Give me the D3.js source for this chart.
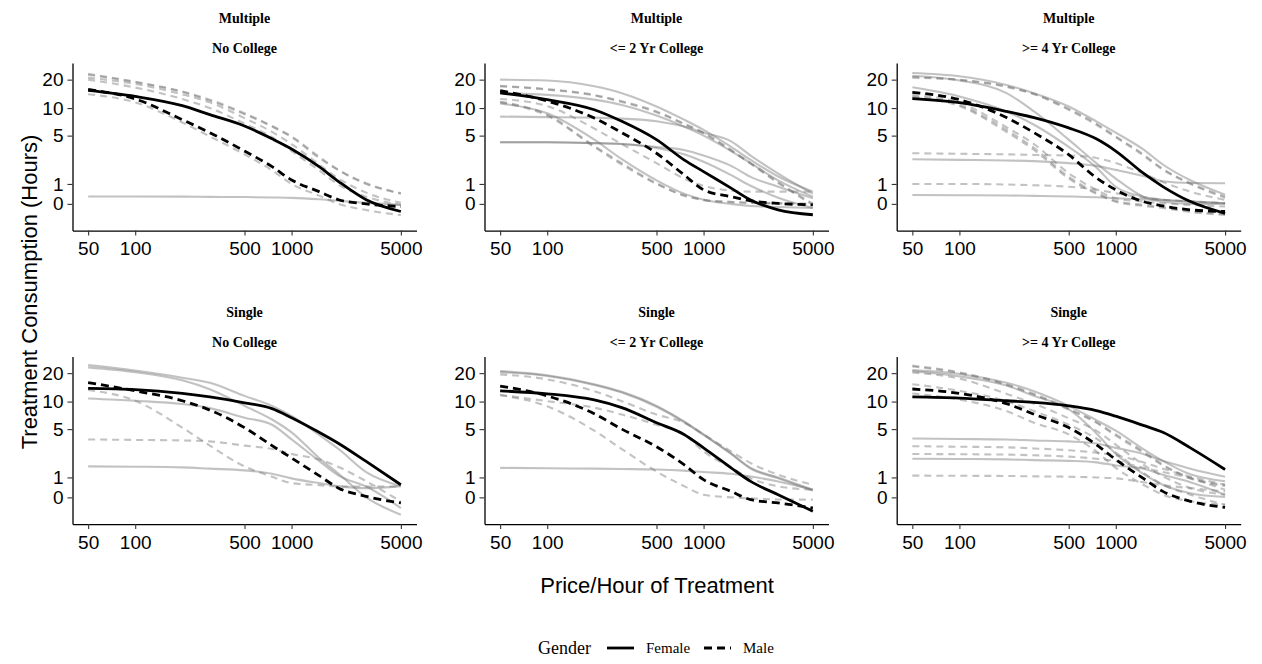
<!DOCTYPE html>
<html>
<head>
<meta charset="utf-8">
<script src="https://cdn.jsdelivr.net/npm/d3@7/dist/d3.min.js"></script>
<style>
  body { margin: 0; background: #fff; }
  text { fill: #000; }
</style>
</head>
<body>
<svg id="chart" width="1262" height="664"></svg>
<script>
// ---- data ----
const prices = [50, 100, 200, 300, 500, 750, 1000, 1500, 2000, 3000, 5000];
const xTicks = [50, 100, 500, 1000, 5000];
const yTicks = [0, 1, 5, 10, 20];
const households = ['Multiple', 'Single'];
const educations = ['No College', '<= 2 Yr College', '>= 4 Yr College'];
const genders = ['Female', 'Male'];

// each row: [gender, 'mean' | 'subject', consumption at each price]
const multipleNoCollege = [
  ['Male',   'subject', [23, 19, 15, 12.3, 8.8, 6.4, 4.9, 2.8, 1.83, 1.04, 0.52]],
  ['Male',   'subject', [22.5, 18.8, 14.8, 12, 8.6, 6.3, 4.8, 2.7, 1.8, 1.0, 0.5]],
  ['Male',   'subject', [21, 18, 14, 11.5, 7.8, 5.5, 4.0, 2.2, 1.3, 0.55, 0.05]],
  ['Male',   'subject', [20, 16.5, 12.5, 10, 6.8, 4.8, 3.3, 1.8, 0.95, 0.35, -0.05]],
  ['Male',   'subject', [14, 11.5, 7.0, 4.9, 3.0, 1.8, 1.0, 0.4, 0.0, -0.3, -0.55]],
  ['Female', 'subject', [0.36, 0.36, 0.35, 0.34, 0.33, 0.31, 0.29, 0.22, 0.15, 0.05, -0.05]],
  ['Female', 'mean',    [15.4, 13.3, 10.6, 8.5, 6.4, 4.6, 3.5, 2.05, 1.13, 0.2, -0.37]],
  ['Male',   'mean',    [15.8, 12.5, 7.5, 5.4, 3.3, 2.05, 1.22, 0.6, 0.2, 0, -0.13]]
];
const multipleTwoYr = [
  ['Female', 'subject', [20, 19.6, 17, 14.4, 10.4, 7.5, 5.8, 3.7, 2.55, 1.42, 0.6]],
  ['Female', 'subject', [14.4, 13.8, 12.3, 10.8, 8.3, 6.3, 5.0, 3.3, 2.3, 1.2, 0.35]],
  ['Male',   'subject', [17.2, 15.9, 13.8, 11.8, 9.2, 6.8, 5.4, 3.4, 2.3, 1.1, 0.0]],
  ['Male',   'subject', [17, 15.7, 13.6, 11.6, 9.0, 6.7, 5.3, 3.35, 2.25, 1.05, -0.05]],
  ['Female', 'subject', [8.1, 8.0, 7.9, 7.7, 7.2, 6.3, 5.4, 4.3, 2.9, 1.6, 0.5]],
  ['Female', 'subject', [4.2, 4.2, 4.1, 4.0, 3.7, 3.4, 2.9, 2.1, 1.4, 0.85, 0.27]],
  ['Female', 'subject', [4.2, 4.2, 4.1, 4.0, 3.6, 3.0, 2.4, 1.5, 0.9, 0.3, -0.2]],
  ['Male',   'subject', [11.7, 8.5, 3.8, 2.3, 1.04, 0.43, 0.2, 0.1, 0.05, 0.03, 0]],
  ['Male',   'subject', [11.5, 8.3, 3.7, 2.2, 1.0, 0.4, 0.18, 0.08, 0.05, 0.02, 0]],
  ['Female', 'subject', [11.2, 8.8, 4.5, 2.6, 1.2, 0.5, 0.2, 0.0, -0.1, -0.15, -0.2]],
  ['Male',   'subject', [12.5, 10.5, 6.0, 4.0, 2.3, 1.3, 0.9, 0.65, 0.6, 0.6, 0.6]],
  ['Female', 'mean',    [14.5, 12.3, 9.6, 7.2, 4.5, 2.55, 1.72, 0.78, 0.19, -0.29, -0.53]],
  ['Male',   'mean',    [15.3, 11.9, 7.8, 5.4, 3.1, 1.52, 0.69, 0.35, 0.15, 0.02, -0.05]]
];
const multipleFourYr = [
  ['Female', 'subject', [23.5, 21.7, 17.6, 14.4, 10.4, 7.2, 5.4, 3.45, 2.2, 1.2, 0.45]],
  ['Male',   'subject', [21.3, 20, 17, 14.2, 9.8, 6.8, 4.9, 3.0, 1.9, 1.04, 0.36]],
  ['Male',   'subject', [21, 19.8, 16.8, 14, 9.6, 6.6, 4.8, 2.9, 1.85, 1.0, 0.3]],
  ['Female', 'subject', [22, 19.6, 14.4, 9.2, 4.5, 2.3, 1.3, 0.35, 0.1, 0.0, 0.0]],
  ['Female', 'subject', [16.6, 13.3, 9.2, 6.6, 3.7, 2.0, 0.85, 0.35, 0.2, 0.1, 0.03]],
  ['Male',   'subject', [13.8, 11.4, 6.2, 4.0, 1.62, 0.69, 0.27, 0.11, 0.03, -0.05, -0.13]],
  ['Male',   'subject', [13.0, 10.5, 5.5, 3.4, 1.3, 0.5, 0.1, -0.1, -0.2, -0.4, -0.54]],
  ['Male',   'subject', [13.3, 10.8, 5.8, 3.6, 1.4, 0.55, 0.15, -0.05, -0.15, -0.35, -0.5]],
  ['Male',   'subject', [3.1, 3.05, 3.0, 2.95, 2.9, 2.7, 2.3, 1.6, 1.1, 0.6, 0.19]],
  ['Female', 'subject', [2.6, 2.55, 2.5, 2.45, 2.3, 2.1, 1.83, 1.45, 1.15, 1.05, 1.04]],
  ['Male',   'subject', [1.0, 1.0, 0.97, 0.93, 0.85, 0.7, 0.52, 0.3, 0.2, 0.12, 0.03]],
  ['Female', 'subject', [0.43, 0.42, 0.41, 0.39, 0.36, 0.32, 0.27, 0.22, 0.19, 0.13, 0.03]],
  ['Female', 'mean',    [12.6, 11.4, 9.2, 7.9, 6.1, 4.6, 3.3, 1.62, 0.86, 0.11, -0.46]],
  ['Male',   'mean',    [14.7, 12.3, 7.9, 5.4, 2.97, 1.35, 0.69, 0.11, -0.1, -0.29, -0.37]]
];
const singleNoCollege = [
  ['Female', 'subject', [24.3, 21.3, 17.9, 15.8, 11.5, 9.0, 7.0, 4.3, 2.9, 1.3, 0.55]],
  ['Female', 'subject', [23, 20.5, 16.8, 13.5, 9.0, 6.4, 4.6, 2.2, 1.2, 0.0, -0.86]],
  ['Female', 'subject', [10.8, 10.2, 9.4, 8.5, 6.7, 5.6, 3.8, 2.0, 1.1, 0.53, -0.52]],
  ['Male',   'subject', [13.3, 10.2, 5.2, 3.2, 1.64, 1.04, 0.7, 0.6, 0.53, 0.53, 0.53]],
  ['Male',   'subject', [3.8, 3.75, 3.7, 3.6, 3.2, 2.9, 2.5, 2.1, 1.6, 0.8, -0.2]],
  ['Female', 'subject', [1.64, 1.62, 1.58, 1.5, 1.4, 1.2, 0.95, 0.7, 0.55, 0.45, 0.55]],
  ['Female', 'mean',    [13.8, 13.4, 12.2, 11.2, 9.7, 8.4, 6.7, 4.6, 3.4, 1.96, 0.62]],
  ['Male',   'mean',    [15.9, 13.0, 10.2, 8.1, 5.2, 3.2, 2.2, 1.1, 0.45, 0.05, -0.27]]
];
const singleTwoYr = [
  ['Female', 'subject', [21, 19, 15.3, 12.7, 9.0, 6.1, 4.35, 2.55, 1.55, 1.0, 0.37]],
  ['Female', 'subject', [20.5, 18.7, 15, 12.5, 8.8, 6.0, 4.3, 2.5, 1.5, 0.95, 0.33]],
  ['Male',   'subject', [19.4, 17.2, 12.9, 10.1, 7.25, 5.9, 4.35, 2.7, 1.85, 1.15, 0.62]],
  ['Male',   'subject', [11.8, 10.1, 8.6, 7.25, 5.6, 4.35, 2.7, 1.55, 0.95, 0.54, 0.37]],
  ['Male',   'subject', [11.7, 8.9, 4.8, 2.9, 1.33, 0.55, 0.13, 0.0, -0.05, -0.1, -0.11]],
  ['Female', 'subject', [1.55, 1.52, 1.5, 1.48, 1.45, 1.38, 1.3, 1.2, 1.05, 0.79, 0.37]],
  ['Female', 'mean',    [13.0, 12.1, 10.4, 8.6, 5.9, 4.35, 3.0, 1.55, 0.79, 0.13, -0.68]],
  ['Male',   'mean',    [14.6, 11.5, 7.4, 5.0, 3.1, 1.75, 0.88, 0.29, -0.11, -0.27, -0.52]]
];
const singleFourYr = [
  ['Male',   'subject', [24, 20.4, 15.3, 12.1, 8.4, 6.0, 4.35, 2.7, 1.75, 0.98, 0.62]],
  ['Male',   'subject', [23.5, 20, 15, 11.8, 8.2, 5.9, 4.2, 2.6, 1.7, 0.95, 0.55]],
  ['Female', 'subject', [21.5, 19.6, 15.8, 12.9, 9.0, 6.3, 4.8, 2.9, 2.0, 1.17, 0.8]],
  ['Female', 'subject', [21, 18.5, 14.8, 11.5, 8.3, 4.5, 2.5, 1.2, 0.62, 0.2, 0.02]],
  ['Male',   'subject', [20.3, 17.5, 12.1, 9.5, 6.6, 4.8, 3.3, 1.75, 1.06, 0.45, 0.13]],
  ['Male',   'subject', [15.3, 13.0, 10.1, 7.9, 5.6, 3.9, 2.6, 1.25, 0.62, 0.13, -0.36]],
  ['Male',   'subject', [12.2, 10.5, 7.9, 5.9, 4.35, 2.7, 1.55, 0.62, 0.13, -0.19, -0.36]],
  ['Female', 'subject', [3.9, 3.85, 3.8, 3.7, 3.6, 3.4, 3.0, 2.5, 2.0, 1.5, 1.04]],
  ['Male',   'subject', [3.15, 3.1, 3.05, 2.95, 2.8, 2.6, 2.4, 1.9, 1.5, 1.04, 0.62]],
  ['Male',   'subject', [2.5, 2.48, 2.45, 2.4, 2.3, 2.15, 2.0, 1.55, 1.3, 0.95, 0.37]],
  ['Female', 'subject', [2.15, 2.13, 2.1, 2.05, 2.0, 1.9, 1.7, 1.5, 1.15, 0.75, 0.13]],
  ['Male',   'subject', [1.1, 1.09, 1.08, 1.06, 1.04, 1.0, 0.95, 0.75, 0.6, 0.45, 0.29]],
  ['Female', 'mean',    [11.2, 10.9, 10.2, 9.8, 9.0, 8.0, 6.95, 5.5, 4.6, 3.0, 1.45]],
  ['Male',   'mean',    [13.6, 12.2, 9.5, 7.3, 5.2, 3.3, 2.09, 0.95, 0.29, -0.19, -0.49]]
];
const panelData = [
  [multipleNoCollege, multipleTwoYr, multipleFourYr],
  [singleNoCollege, singleTwoYr, singleFourYr]
];

// ---- layout ----
const svg = d3.select('#chart');
const panelW = 344, panelH = 167.6;
const panelLeft = [72.5, 484.5, 896.7];
const panelTop = [63, 356.5];

// x: log scale, y: inverse hyperbolic sine (pseudo-log) transform
const x = d3.scaleLog()
  .domain([prices[0] / Math.pow(10, 0.1), prices[prices.length - 1] * Math.pow(10, 0.1)])
  .range([0, panelW]);
const ihs = v => Math.asinh(v / 2);
const yT = d3.scaleLinear().domain([-0.645, 3.40]).range([panelH, 0]);

const line = d3.line()
  .x((d, i) => x(prices[i]))
  .y(d => yT(ihs(d)))
  .curve(d3.curveMonotoneX);

const dashFor = (gender, role) => gender === 'Male' ? (role === 'mean' ? '8,5' : '7,5') : null;

households.forEach((hh, r) => {
  educations.forEach((ed, c) => {
    const g = svg.append('g')
      .attr('transform', `translate(${panelLeft[c]},${panelTop[r]})`);

    // strip labels
    g.append('text').attr('x', panelW / 2).attr('y', -40)
      .attr('text-anchor', 'middle')
      .style('font', 'bold 14px "Liberation Serif", serif')
      .text(hh);
    g.append('text').attr('x', panelW / 2).attr('y', -10)
      .attr('text-anchor', 'middle')
      .style('font', 'bold 14px "Liberation Serif", serif')
      .text(ed);

    const rows = panelData[r][c];
    // subjects first (grey, translucent), then group means (black)
    g.selectAll('.subject')
      .data(rows.filter(d => d[1] === 'subject'))
      .enter().append('path')
      .attr('class', 'subject')
      .attr('d', d => line(d[2]))
      .attr('fill', 'none')
      .attr('stroke', '#757575')
      .attr('stroke-opacity', 0.44)
      .attr('stroke-width', 2.1)
      .attr('stroke-dasharray', d => dashFor(d[0], d[1]));

    g.selectAll('.mean')
      .data(rows.filter(d => d[1] === 'mean'))
      .enter().append('path')
      .attr('class', 'mean')
      .attr('d', d => line(d[2]))
      .attr('fill', 'none')
      .attr('stroke', '#000')
      .attr('stroke-width', 2.8)
      .attr('stroke-dasharray', d => dashFor(d[0], d[1]));

    // axes
    const xa = g.append('g')
      .attr('transform', `translate(0,${panelH})`)
      .call(d3.axisBottom(x).tickValues(xTicks).tickFormat(d3.format('d'))
        .tickSize(5).tickSizeOuter(0).tickPadding(6));
    const ya = g.append('g')
      .call(d3.axisLeft(yT).tickValues(yTicks.map(ihs)).tickFormat((d, i) => yTicks[i])
        .tickSize(5).tickSizeOuter(0).tickPadding(4));
    [xa, ya].forEach(a => {
      a.select('.domain').attr('stroke', '#000').attr('stroke-width', 1.3);
      a.selectAll('.tick line').attr('stroke', '#333').attr('stroke-width', 1.1);
      a.selectAll('.tick text')
        .style('font', '19px "Liberation Sans", Arial, sans-serif')
        .attr('fill', '#111');
    });
  });
});

// axis titles
svg.append('text')
  .attr('transform', 'translate(37,292) rotate(-90)')
  .attr('text-anchor', 'middle')
  .style('font', '22px "Liberation Sans", Arial, sans-serif')
  .text('Treatment Consumption (Hours)');
svg.append('text')
  .attr('x', 657).attr('y', 593)
  .attr('text-anchor', 'middle')
  .style('font', '22px "Liberation Sans", Arial, sans-serif')
  .text('Price/Hour of Treatment');

// legend
const legend = svg.append('g').attr('transform', 'translate(538,648)');
legend.append('text').attr('x', 0).attr('y', 6)
  .style('font', '18px "Liberation Serif", serif')
  .text('Gender');
genders.forEach((gd, i) => {
  const lx = 69 + i * 97;
  legend.append('line')
    .attr('x1', lx).attr('x2', lx + 27).attr('y1', 0).attr('y2', 0)
    .attr('stroke', '#000').attr('stroke-width', 2.8)
    .attr('stroke-dasharray', dashFor(gd, 'mean'));
  legend.append('text').attr('x', lx + 39).attr('y', 5)
    .style('font', '15px "Liberation Serif", serif')
    .text(gd);
});
</script>
</body>
</html>
